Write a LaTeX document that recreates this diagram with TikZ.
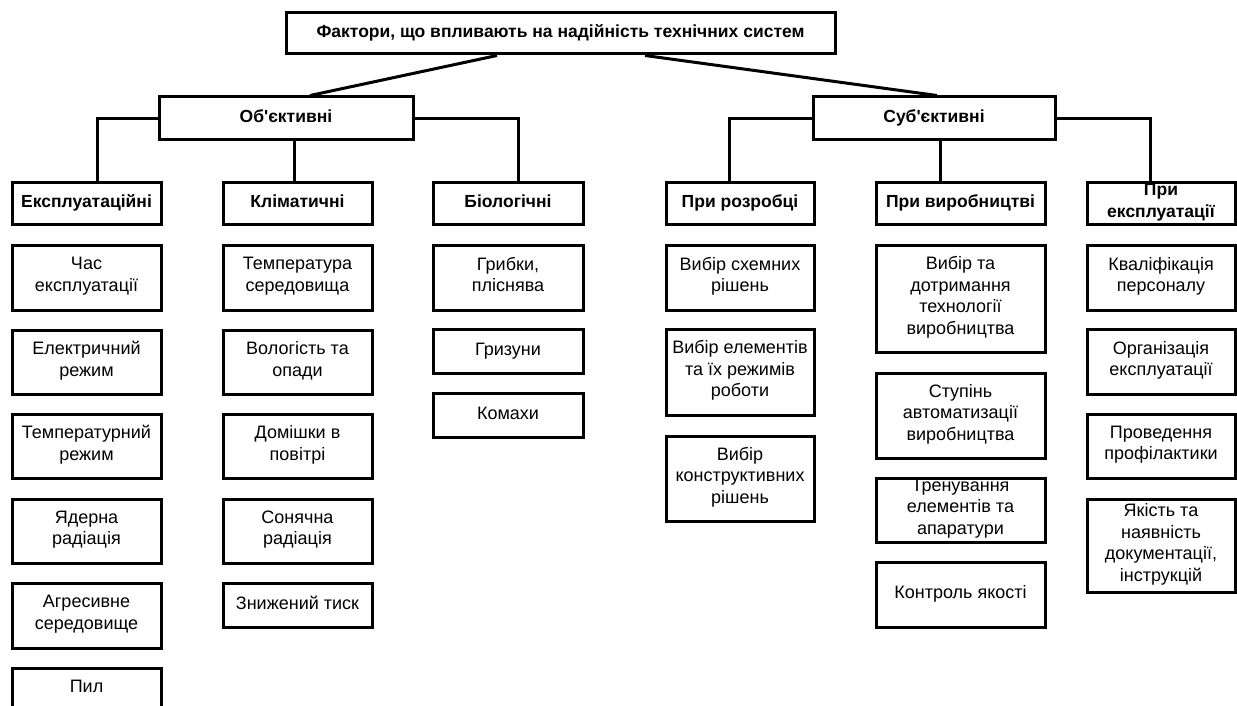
\documentclass[tikz,border=0pt]{standalone}
\usepackage{fontspec}
\setmainfont{Liberation Sans}
\begin{document}
\begin{tikzpicture}[x=1pt, y=-1pt,
  box/.style={draw, line width=3pt, rectangle, inner sep=0pt, align=center,
    font=\fontsize{18}{21.5}\selectfont,
    execute at begin node=\strut, execute at end node=\strut},
  hdr/.style={box, minimum height=42pt, font=\bfseries\fontsize{17.5}{21.5}\selectfont},
  link/.style={line width=3pt}]
\clip (0,0) rectangle (1237,706);
\fill[white] (0,0) rectangle (1237,706);

% root and the two main groups
\node[hdr, minimum width=549pt, minimum height=41pt] (top) at (560.5,33.5)
  {Фактори, що впливають на надійність технічних систем};
\node[hdr, minimum width=254pt, minimum height=43pt] (obj) at (286,118.5) {Об\textquotesingle єктивні};
\node[hdr, minimum width=242pt, minimum height=43pt] (subj) at (934,118.5) {Суб\textquotesingle єктивні};

% second level
\node[hdr, minimum width=149pt] (expl) at (86.5,203) {Експлуатаційні};
\node[hdr, minimum width=149pt] (klim) at (297.5,203) {Кліматичні};
\node[hdr, minimum width=150pt] (biol) at (508,203) {Біологічні};
\node[hdr, minimum width=148pt] (rozr) at (740,203) {При розробці};
\node[hdr, minimum width=169pt] (vyr) at (960.5,203) {При виробництві};
\node[hdr, minimum width=148pt] (eks) at (1161,203) {\raisebox{-1.5pt}{При}\\\raisebox{-1.5pt}{експлуатації}};

% connectors
\draw[link] ([xshift=-63.5pt]top.south) -- ([xshift=24pt]obj.north);
\draw[link] ([xshift=84.5pt]top.south) -- ([xshift=3pt]subj.north);
\draw[link] (obj.west) -| ([xshift=10.5pt]expl.north);
\draw[link] ([xshift=-3.5pt]klim.north) -- ([xshift=-3.5pt]klim.north |- obj.south);
\draw[link] (obj.east) -| ([xshift=10pt]biol.north);
\draw[link] (subj.west) -| ([xshift=-11pt]rozr.north);
\draw[link] ([xshift=-20.5pt]vyr.north) -- ([xshift=-20.5pt]vyr.north |- subj.south);
\draw[link] (subj.east) -| ([xshift=-11pt]eks.north);

% column: exploitation factors
\node[box, minimum width=149pt, minimum height=65pt] (e1) at (86.5,277.5) {Час\\експлуатації};
\node[box, minimum width=149pt, minimum height=64pt] (e2) at (86.5,362) {Електричний\\режим};
\node[box, minimum width=149pt, minimum height=64pt] (e3) at (86.5,446) {Температурний\\режим};
\node[box, minimum width=149pt, minimum height=64pt] (e4) at (86.5,531) {Ядерна\\радіація};
\node[box, minimum width=149pt, minimum height=65pt] (e5) at (86.5,615.5) {Агресивне\\середовище};
\node[box, minimum width=149pt, minimum height=65pt] (e6) at (86.5,700.5) {Пил\\\phantom{Пил}};

% column: climatic factors
\node[box, minimum width=149pt, minimum height=65pt] (k1) at (297.5,277.5) {Температура\\середовища};
\node[box, minimum width=149pt, minimum height=64pt] (k2) at (297.5,362) {Вологість та\\опади};
\node[box, minimum width=149pt, minimum height=64pt] (k3) at (297.5,446) {Домішки в\\повітрі};
\node[box, minimum width=149pt, minimum height=64pt] (k4) at (297.5,531) {Сонячна\\радіація};
\node[box, minimum width=149pt, minimum height=44pt] (k5) at (297.5,605) {Знижений тиск};

% column: biological factors
\node[box, minimum width=150pt, minimum height=65pt] (b1) at (508,277.5) {Грибки,\\пліснява};
\node[box, minimum width=150pt, minimum height=44pt] (b2) at (508,351) {Гризуни};
\node[box, minimum width=150pt, minimum height=44pt] (b3) at (508,415) {Комахи};

% column: design stage
\node[box, minimum width=148pt, minimum height=65pt] (r1) at (740,277.5) {Вибір схемних\\рішень};
\node[box, minimum width=148pt, minimum height=86pt] (r2) at (740,372) {Вибір елементів\\та їх режимів\\роботи};
\node[box, minimum width=148pt, minimum height=85pt] (r3) at (740,478.5) {Вибір\\конструктивних\\рішень};

% column: manufacturing stage
\node[box, minimum width=169pt, minimum height=107pt] (v1) at (960.5,298.5) {Вибір та\\дотримання\\технології\\виробництва};
\node[box, minimum width=169pt, minimum height=85pt] (v2) at (960.5,415.5) {Ступінь\\автоматизації\\виробництва};
\node[box, minimum width=169pt, minimum height=64pt] (v3) at (960.5,510) {Тренування\\елементів та\\апаратури};
\node[box, minimum width=169pt, minimum height=65pt] (v4) at (960.5,594.5) {Контроль якості};

% column: operation stage
\node[box, minimum width=148pt, minimum height=65pt] (x1) at (1161,277.5) {Кваліфікація\\персоналу};
\node[box, minimum width=148pt, minimum height=65pt] (x2) at (1161,361.5) {Організація\\експлуатації};
\node[box, minimum width=148pt, minimum height=64pt] (x3) at (1161,446) {Проведення\\профілактики};
\node[box, minimum width=148pt, minimum height=93pt] (x4) at (1161,545.5) {Якість та\\наявність\\документації,\\інструкцій};
\end{tikzpicture}
\end{document}
